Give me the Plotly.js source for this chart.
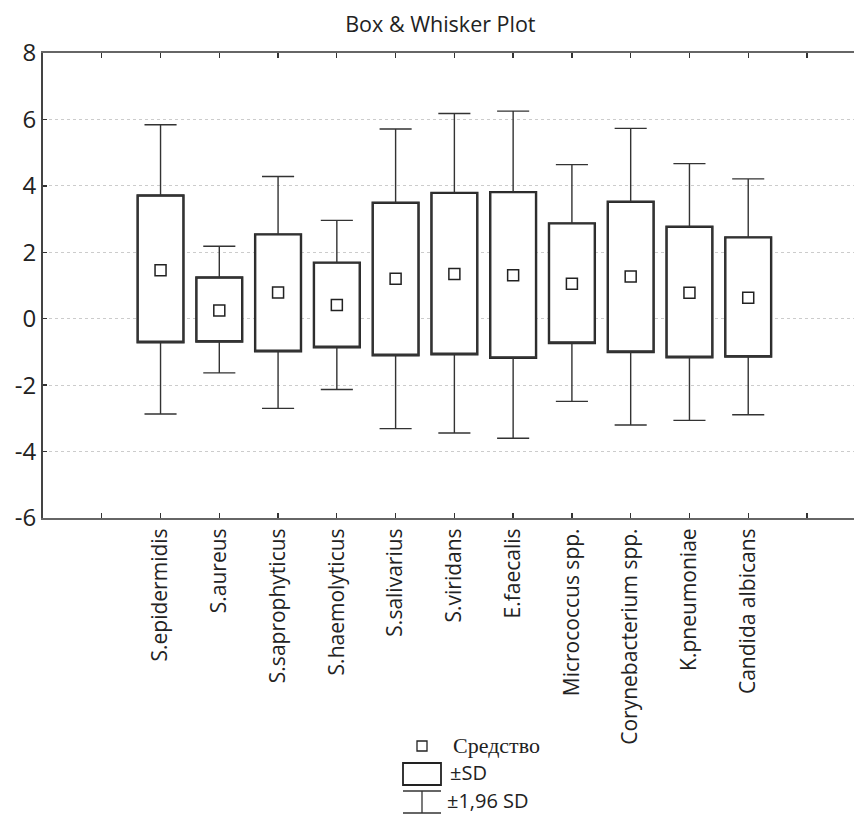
<!DOCTYPE html>
<html>
<head>
<meta charset="utf-8">
<script src="https://cdn.plot.ly/plotly-3.0.1.min.js"></script>
<style>
html,body{margin:0;padding:0;background:#fff;}
#chart{width:854px;height:814px;}
</style>
</head>
<body>
<div id="chart"></div>
<script>
// ---- data ----
var categories = ["S.epidermidis","S.aureus","S.saprophyticus","S.haemolyticus","S.salivarius","S.viridans","E.faecalis","Micrococcus spp.","Corynebacterium spp.","K.pneumoniae","Candida albicans"];
var means      = [1.46, 0.25, 0.79, 0.41, 1.20, 1.35, 1.31, 1.05, 1.27, 0.78, 0.63];
var sdLow      = [-0.71, -0.69, -0.98, -0.86, -1.10, -1.07, -1.18, -0.73, -1.00, -1.16, -1.14];
var sdHigh     = [3.71, 1.24, 2.54, 1.69, 3.49, 3.79, 3.81, 2.87, 3.52, 2.77, 2.45];
var ci196Low   = [-2.87, -1.63, -2.70, -2.13, -3.31, -3.44, -3.60, -2.49, -3.20, -3.06, -2.89];
var ci196High  = [5.84, 2.18, 4.28, 2.96, 5.71, 6.18, 6.25, 4.64, 5.73, 4.67, 4.21];
var yTicks     = [-6, -4, -2, 0, 2, 4, 6, 8];
var yTickText  = ["-6", "-4", "-2", "0", "2", "4", "6", "8"];
var legendLabels = ["Средство", "±SD", "±1,96 SD"];

var pos = categories.map(function(_, i){ return i; });
var boxW = 0.78;

var traces = [
  {
    type: "bar",
    x: pos,
    base: sdLow,
    y: sdHigh.map(function(h, i){ return h - sdLow[i]; }),
    width: boxW,
    marker: {color: "#ffffff", line: {color: "#222222", width: 2.4}},
    hoverinfo: "skip",
    showlegend: false
  },
  {
    type: "box",
    x: pos,
    q1: sdLow,
    median: sdLow,
    q3: sdHigh,
    lowerfence: ci196Low,
    upperfence: ci196High,
    width: boxW,
    whiskerwidth: 0.7,
    fillcolor: "rgba(0,0,0,0)",
    line: {color: "#333333", width: 1.4},
    boxpoints: false,
    hoverinfo: "skip",
    showlegend: false
  },
  {
    type: "scatter",
    mode: "markers",
    x: pos,
    y: means,
    marker: {symbol: "square", size: 11, color: "#ffffff", line: {color: "#222222", width: 1.5}},
    hoverinfo: "skip",
    showlegend: false
  }
];

var L = 43, T = 53, W = 811, H = 465;
function px(x){ return (x - L) / W; }
function py(y){ return (T + H - y) / H; }

var tickVals = [-2, -1].concat(pos).concat([11]);
var tickText = ["", ""].concat(categories).concat([""]);

var shapes = [
  {type:"rect", xref:"paper", yref:"paper", x0:px(417), x1:px(427), y0:py(741), y1:py(751), line:{color:"#222", width:1.3}},
  {type:"rect", xref:"paper", yref:"paper", x0:px(403), x1:px(441), y0:py(763), y1:py(785), line:{color:"#222", width:1.8}},
  {type:"line", xref:"paper", yref:"paper", x0:px(403), x1:px(441), y0:py(791), y1:py(791), line:{color:"#333", width:1.3}},
  {type:"line", xref:"paper", yref:"paper", x0:px(422), x1:px(422), y0:py(791), y1:py(813), line:{color:"#333", width:1.3}},
  {type:"line", xref:"paper", yref:"paper", x0:px(403), x1:px(441), y0:py(813), y1:py(813), line:{color:"#333", width:1.3}}
];

var annotations = [
  {xref:"paper", yref:"paper", x:px(451), y:py(745), text:legendLabels[0], showarrow:false, xanchor:"left", yanchor:"middle",
   font:{family:"Liberation Serif, Times New Roman, serif", size:22, color:"#222"}},
  {xref:"paper", yref:"paper", x:px(448), y:py(772), text:legendLabels[1], showarrow:false, xanchor:"left", yanchor:"middle",
   font:{family:"Open Sans, sans-serif", size:20, color:"#222"}},
  {xref:"paper", yref:"paper", x:px(445), y:py(800), text:legendLabels[2], showarrow:false, xanchor:"left", yanchor:"middle",
   font:{family:"Open Sans, sans-serif", size:20, color:"#222"}}
];

var layout = {
  width: 854, height: 814,
  margin: {l: L, r: 0, t: T, b: 814 - T - H, pad: 0},
  paper_bgcolor: "#ffffff",
  plot_bgcolor: "#ffffff",
  showlegend: false,
  barmode: "overlay",
  title: {text: "Box & Whisker Plot", x: 0.49, xref: "paper", xanchor: "center", y: 1 - 24/814, yref: "container", yanchor: "middle",
          font: {family: "Open Sans, sans-serif", size: 21.5, color: "#222"}},
  font: {family: "Open Sans, sans-serif", color: "#222"},
  xaxis: {
    range: [-2, 11.8],
    tickmode: "array", tickvals: tickVals, ticktext: tickText,
    tickangle: -90,
    ticks: "inside", ticklen: 5, tickwidth: 1.3, tickcolor: "#333",
    showline: true, linecolor: "#666", linewidth: 2, mirror: "ticks",
    showgrid: false, zeroline: false,
    tickfont: {family: "Open Sans, sans-serif", size: 21, color: "#222"}
  },
  yaxis: {
    range: [-6, 8],
    tickmode: "array", tickvals: yTicks, ticktext: yTickText,
    ticks: "inside", ticklen: 4, tickwidth: 1.3, tickcolor: "#333",
    showline: true, linecolor: "#444", linewidth: 2,
    showgrid: true, gridcolor: "#cccccc", gridwidth: 1, griddash: "dot",
    zeroline: false,
    tickfont: {family: "Open Sans, sans-serif", size: 24, color: "#222"}
  },
  shapes: shapes,
  annotations: annotations
};

Plotly.newPlot("chart", traces, layout, {displayModeBar: false, staticPlot: true});
</script>
</body>
</html>
